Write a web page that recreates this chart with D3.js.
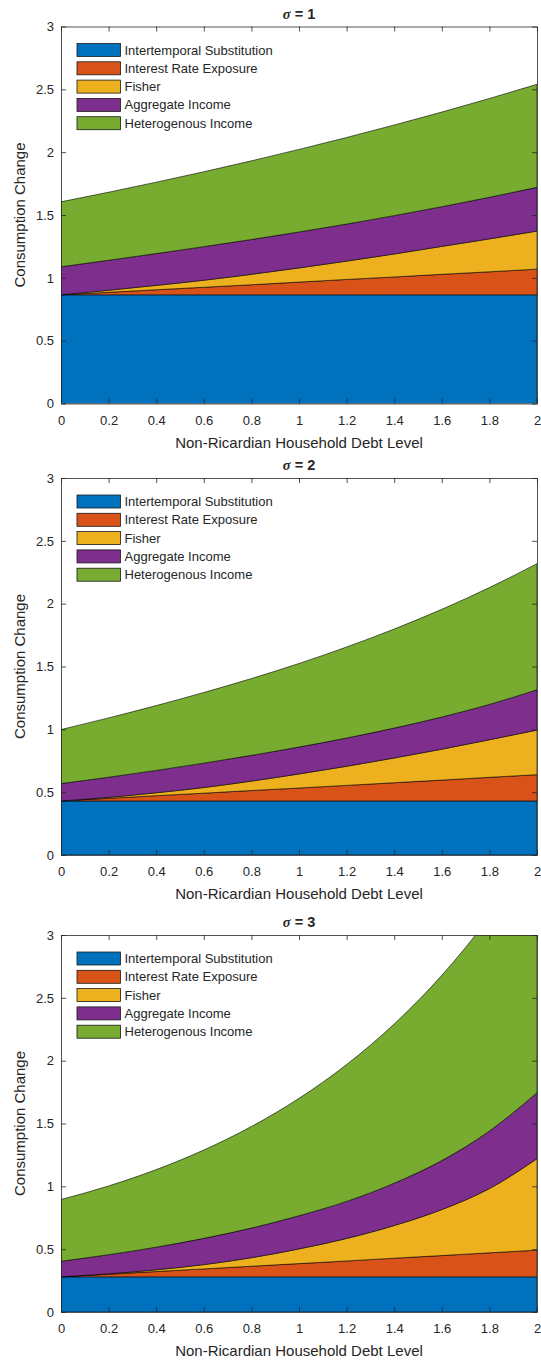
<!DOCTYPE html>
<html>
<head>
<meta charset="utf-8">
<title>consumption change by debt level</title>
<script src="https://d3js.org/d3.v7.min.js"></script>
<style>
    html, body {
        margin: 0;
        padding: 0;
        background-color: white;
    }
    svg {
        display: block;
        font-family: 'Liberation Sans', Arial, sans-serif;
    }
    text {
        fill: #262626;
    }
</style>
</head>
<body>
<script>

//DATA
let debt = [0, 0.2, 0.4, 0.6, 0.8, 1.0, 1.2, 1.4, 1.6, 1.8, 2.0]
let xTickLabels = ['0', '0.2', '0.4', '0.6', '0.8', '1', '1.2', '1.4', '1.6', '1.8', '2']
let yTicks = [0, 0.5, 1, 1.5, 2, 2.5, 3]
let yTickLabels = ['0', '0.5', '1', '1.5', '2', '2.5', '3']
let seriesNames = ['Intertemporal Substitution', 'Interest Rate Exposure', 'Fisher', 'Aggregate Income', 'Heterogenous Income']
let colors = ['#0072BD', '#D95319', '#EDB120', '#7E2F8E', '#77AC30']
let sigmas = [1, 2, 3]

// sigma = 1
let subst1   = [0.865, 0.865, 0.865, 0.865, 0.865, 0.865, 0.865, 0.865, 0.865, 0.865, 0.865]
let rateExp1 = [0, 0.020, 0.040, 0.060, 0.080, 0.101, 0.122, 0.142, 0.163, 0.183, 0.204]
let fisher1  = [0, 0.016, 0.035, 0.056, 0.083, 0.113, 0.146, 0.183, 0.222, 0.262, 0.303]
let aggInc1  = [0.223, 0.239, 0.253, 0.267, 0.277, 0.286, 0.295, 0.305, 0.316, 0.331, 0.348]
let hetInc1  = [0.517, 0.541, 0.568, 0.596, 0.626, 0.657, 0.689, 0.721, 0.753, 0.786, 0.820]

// sigma = 2
let subst2   = [0.43, 0.43, 0.43, 0.43, 0.43, 0.43, 0.43, 0.43, 0.43, 0.43, 0.43]
let rateExp2 = [0, 0.021, 0.042, 0.062, 0.083, 0.103, 0.124, 0.145, 0.166, 0.188, 0.209]
let fisher2  = [0, 0.008, 0.023, 0.045, 0.075, 0.112, 0.152, 0.197, 0.246, 0.299, 0.355]
let aggInc2  = [0.138, 0.160, 0.178, 0.194, 0.205, 0.214, 0.225, 0.238, 0.256, 0.281, 0.321]
let hetInc2  = [0.430, 0.472, 0.516, 0.562, 0.611, 0.665, 0.724, 0.788, 0.857, 0.930, 1.003]

// sigma = 3
let subst3   = [0.28, 0.28, 0.28, 0.28, 0.28, 0.28, 0.28, 0.28, 0.28, 0.28, 0.28]
let rateExp3 = [0, 0.021, 0.042, 0.063, 0.084, 0.105, 0.126, 0.148, 0.169, 0.191, 0.212]
let fisher3  = [0, 0.003, 0.014, 0.034, 0.068, 0.117, 0.179, 0.260, 0.366, 0.511, 0.728]
let aggInc3  = [0.124, 0.152, 0.180, 0.209, 0.236, 0.264, 0.295, 0.337, 0.390, 0.458, 0.525]
let hetInc3  = [0.491, 0.547, 0.617, 0.703, 0.808, 0.934, 1.089, 1.267, 1.474, 1.704, 1.957]

let panels = [
    [subst1, rateExp1, fisher1, aggInc1, hetInc1],
    [subst2, rateExp2, fisher2, aggInc2, hetInc2],
    [subst3, rateExp3, fisher3, aggInc3, hetInc3]
]

//LAYOUT
let W = 541, H = 1364
let left = 61, right = 537
let tops = [26.5, 478, 935]
let ph = 377
let tick = 5
let axisCol = '#262626'

let svg = d3.select('body').append('svg')
    .attr('width', W)
    .attr('height', H)

let x = d3.scaleLinear().domain([0, 2]).range([left, right])
let keys = seriesNames.map((d, i) => 's' + i)

panels.forEach((p, k) => drawPanel(p, tops[k], k))

//DRAWING
function drawPanel(series, top, k){
    let y = d3.scaleLinear().domain([0, 3]).range([top + ph, top])
    let g = svg.append('g')

    let rows = debt.map((d, i) => {
        let r = { debt: d }
        keys.forEach((key, j) => r[key] = series[j][i])
        return r
    })
    let stacked = d3.stack().keys(keys)(rows)

    let area = d3.area()
        .x(d => x(d.data.debt))
        .y0(d => y(d[0]))
        .y1(d => y(d[1]))
        .curve(d3.curveMonotoneX)

    svg.append('clipPath').attr('id', 'clip' + k)
        .append('rect')
        .attr('x', left).attr('y', top)
        .attr('width', right - left).attr('height', ph)

    g.append('g')
        .attr('clip-path', 'url(#clip' + k + ')')
        .selectAll('path')
        .data(stacked)
        .join('path')
        .attr('d', area)
        .attr('fill', (d, j) => colors[j])
        .attr('stroke', 'black')
        .attr('stroke-width', 0.6)
        .attr('stroke-linejoin', 'round')

    // axes, ticks inside on all four sides
    let bottom = g.append('g')
        .attr('transform', 'translate(0,' + (top + ph) + ')')
        .call(d3.axisBottom(x).tickValues(debt).tickFormat((d, i) => xTickLabels[i])
            .tickSize(-tick).tickSizeOuter(0).tickPadding(12))
    let leftAx = g.append('g')
        .attr('transform', 'translate(' + left + ',0)')
        .call(d3.axisLeft(y).tickValues(yTicks).tickFormat((d, i) => yTickLabels[i])
            .tickSize(-tick).tickSizeOuter(0).tickPadding(7))
    let topAx = g.append('g')
        .attr('transform', 'translate(0,' + top + ')')
        .call(d3.axisTop(x).tickValues(debt).tickFormat('').tickSize(-tick).tickSizeOuter(0))
    let rightAx = g.append('g')
        .attr('transform', 'translate(' + right + ',0)')
        .call(d3.axisRight(y).tickValues(yTicks).tickFormat('').tickSize(-tick).tickSizeOuter(0))

    ;[bottom, leftAx, topAx, rightAx].forEach(a => {
        a.attr('font-family', null).attr('font-size', 13)
        a.selectAll('path, line').attr('stroke', axisCol).attr('stroke-width', 0.8)
        a.selectAll('text').attr('fill', axisCol)
    })

    // labels
    g.append('text')
        .text('Non-Ricardian Household Debt Level')
        .attr('x', (left + right) / 2)
        .attr('y', top + ph + 39)
        .attr('dy', '0.35em')
        .attr('text-anchor', 'middle')
        .attr('font-size', 15)

    g.append('text')
        .text('Consumption Change')
        .attr('transform', 'translate(20,' + (top + ph / 2) + ') rotate(-90)')
        .attr('dy', '0.35em')
        .attr('text-anchor', 'middle')
        .attr('font-size', 15)

    let title = g.append('text')
        .attr('x', (left + right) / 2)
        .attr('y', top - 13)
        .attr('dy', '0.35em')
        .attr('text-anchor', 'middle')
        .attr('font-size', 14.5)
        .attr('font-weight', 'bold')
    title.append('tspan')
        .text('σ')
        .attr('font-family', "'Liberation Serif', serif")
        .attr('font-style', 'italic')
    title.append('tspan').text(' = ' + sigmas[k])

    // legend
    let lg = g.append('g')
    seriesNames.forEach((name, j) => {
        let cy = top + 23.5 + j * 18.3
        lg.append('rect')
            .attr('x', 77).attr('y', cy - 6.5)
            .attr('width', 43.5).attr('height', 13)
            .attr('fill', colors[j])
            .attr('stroke', '#1a1a1a')
            .attr('stroke-width', 0.8)
        lg.append('text')
            .text(name)
            .attr('x', 124.5).attr('y', cy)
            .attr('dy', '0.35em')
            .attr('font-size', 13)
    })
}

</script>
</body>
</html>
